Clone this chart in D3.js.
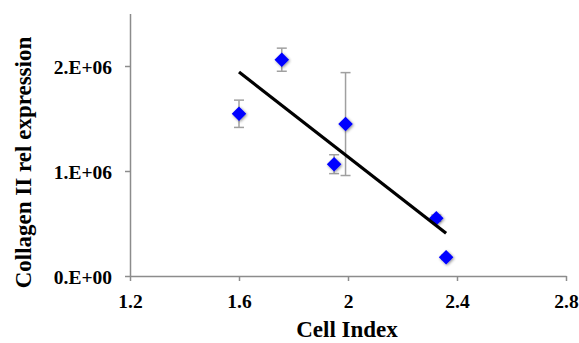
<!DOCTYPE html>
<html><head><meta charset="utf-8">
<script src="https://cdn.jsdelivr.net/npm/d3@7/dist/d3.min.js"></script>
<style>body{margin:0;background:#fff}svg{display:block}</style>
</head><body>
<script>
const cellIndex = [1.6, 1.757, 1.949, 1.991, 2.324, 2.36];
const expression = [1.545e6, 2.06e6, 1.065e6, 1.447e6, 0.55e6, 0.178e6];
const errors = [0.13e6, 0.11e6, 0.09e6, 0.49e6, 0.03e6, 0.02e6];
const xTicks = [1.2, 1.6, 2, 2.4, 2.8];
const xTickLabels = ["1.2", "1.6", "2", "2.4", "2.8"];
const yTicks = [0, 1e6, 2e6];
const yTickLabels = ["0.E+00", "1.E+06", "2.E+06"];

const W = 579, H = 343;
const svg = d3.select("body").append("svg").attr("width", W).attr("height", H);
const x = d3.scaleLinear().domain([1.2, 2.8]).range([130, 566]);
const y = d3.scaleLinear().domain([0, 2.5e6]).range([276, 13.5]);
const font = "'Liberation Serif','Times New Roman',serif";
const axisColor = "#8c8c8c";

const defs = svg.append("defs");
const f = defs.append("filter").attr("id", "glow").attr("x", "-50%").attr("y", "-50%").attr("width", "200%").attr("height", "200%");
f.append("feGaussianBlur").attr("in", "SourceAlpha").attr("stdDeviation", 1.6).attr("result", "b");
f.append("feOffset").attr("in", "b").attr("dx", 0.5).attr("dy", 1).attr("result", "o");
f.append("feComponentTransfer").attr("in", "o").attr("result", "s").append("feFuncA").attr("type", "linear").attr("slope", 0.45);
f.append("feGaussianBlur").attr("in", "SourceGraphic").attr("stdDeviation", 0.6).attr("result", "g");
const m = f.append("feMerge");
m.append("feMergeNode").attr("in", "s");
m.append("feMergeNode").attr("in", "g");

// axes
const xAxis = d3.axisBottom(x).tickValues(xTicks).tickFormat((d, i) => xTickLabels[i]).tickSize(5).tickSizeOuter(0);
const gx = svg.append("g").attr("transform", "translate(0,276)").call(xAxis);
const yAxis = d3.axisLeft(y).tickValues(yTicks).tickFormat((d, i) => yTickLabels[i]).tickSize(5).tickSizeOuter(0);
const gy = svg.append("g").attr("transform", "translate(130,0)").call(yAxis);
[gx, gy].forEach(g => {
  g.selectAll("path.domain").attr("stroke", axisColor).attr("stroke-width", 1.5);
  g.selectAll(".tick line").attr("stroke", axisColor).attr("stroke-width", 1.5);
  g.selectAll(".tick text").attr("fill", "#000").style("font-family", font).style("font-weight", "bold").style("font-size", "19.5px");
});
gx.selectAll(".tick text").attr("y", 32).attr("dy", 0);
gy.selectAll(".tick text").attr("x", -18).attr("dy", "0.4em");

// error bars
const eb = svg.append("g").attr("stroke", "#a0a0a0").attr("stroke-width", 1.5);
cellIndex.forEach((c, i) => {
  const cx = x(c), y1 = y(expression[i] + errors[i]), y2 = y(expression[i] - errors[i]);
  eb.append("line").attr("x1", cx).attr("x2", cx).attr("y1", y1).attr("y2", y2);
  eb.append("line").attr("x1", cx - 5).attr("x2", cx + 5).attr("y1", y1).attr("y2", y1);
  eb.append("line").attr("x1", cx - 5).attr("x2", cx + 5).attr("y1", y2).attr("y2", y2);
});

// markers
svg.append("g").selectAll("path").data(cellIndex).join("path")
  .attr("d", d3.symbol(d3.symbolDiamond2, 135)())
  .attr("transform", (d, i) => `translate(${x(d)},${y(expression[i])})`)
  .attr("fill", "#0000ff").attr("filter", "url(#glow)");

// trend line (least squares), drawn over markers
const mx = d3.mean(cellIndex), my = d3.mean(expression);
const slope = d3.sum(cellIndex, (c, i) => (c - mx) * (expression[i] - my)) / d3.sum(cellIndex, c => (c - mx) ** 2);
const x0 = d3.min(cellIndex), x1 = d3.max(cellIndex);
svg.append("line")
  .attr("x1", x(x0)).attr("y1", y(my + slope * (x0 - mx)))
  .attr("x2", x(x1)).attr("y2", y(my + slope * (x1 - mx)))
  .attr("stroke", "#000").attr("stroke-width", 3.2);

// titles
svg.append("text").attr("x", 347).attr("y", 337).attr("text-anchor", "middle")
  .style("font-family", font).style("font-weight", "bold").style("font-size", "23px").text("Cell Index");
svg.append("text").attr("transform", "translate(31,162.5) rotate(-90)").attr("text-anchor", "middle")
  .style("font-family", font).style("font-weight", "bold").style("font-size", "23px").text("Collagen II rel expression");
</script>
</body></html>
